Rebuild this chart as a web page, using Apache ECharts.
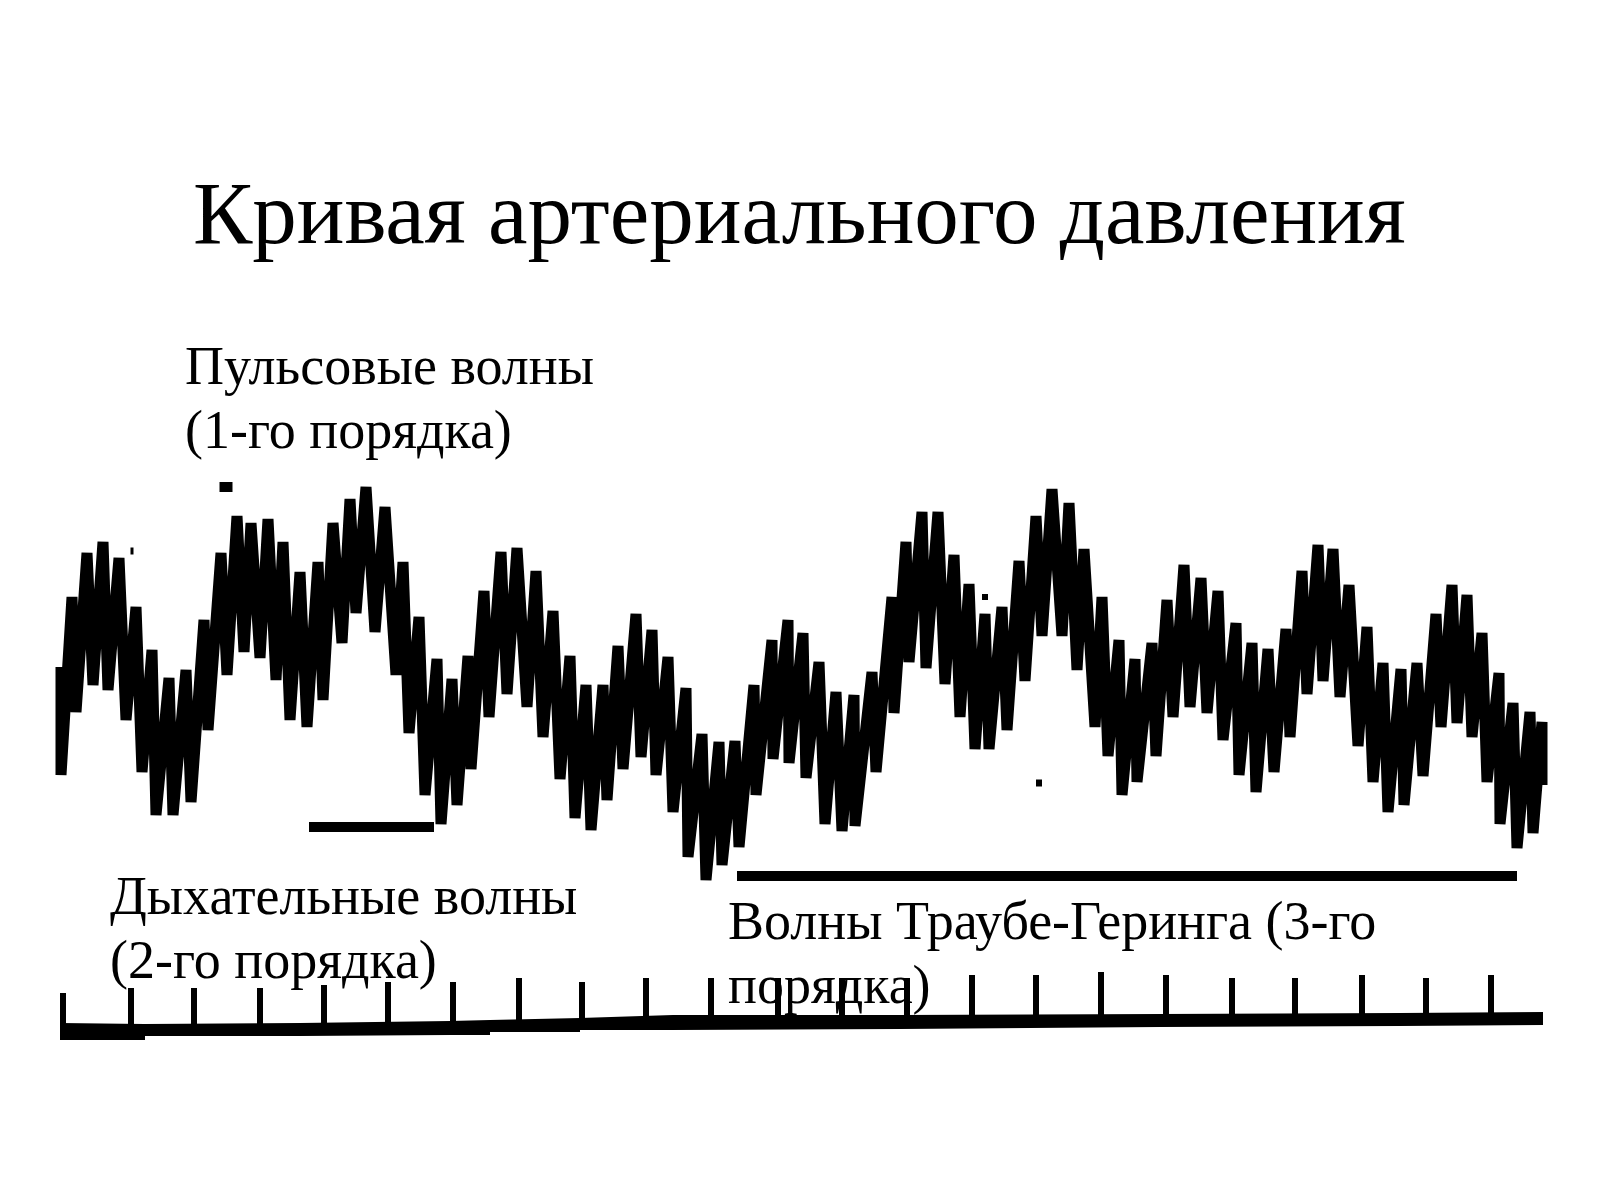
<!DOCTYPE html>
<html>
<head>
<meta charset="utf-8">
<title>Кривая артериального давления</title>
<script src="https://cdn.jsdelivr.net/npm/echarts@6/dist/echarts.min.js"></script>
<style>
  html, body { margin: 0; padding: 0; background: #fff; }
  #chart-container { width: 1600px; height: 1200px; }
</style>
</head>
<body>
<div id="chart-container"></div>
<script>
// pulse beats: crest and foot of every beat
var crestTime = [61,72,87,103,119,136,152,169,186,204,221,237,251,268,283,300,318,333,350,366,385,403,419,437,452,468,484,501,517,536,553,570,586,603,618,636,652,668,686,702,719,735,754,772,788,803,819,836,854,872,892,906,922,938,954,969,985,1002,1019,1036,1052,1069,1084,1102,1119,1135,1152,1167,1184,1201,1218,1236,1252,1268,1286,1302,1318,1333,1349,1367,1383,1401,1417,1436,1452,1467,1482,1499,1513,1530,1542];
var crestLevel = [667,597,553,542,558,607,650,678,670,620,553,516,523,519,542,572,562,523,499,487,507,562,617,659,679,656,591,552,548,571,611,656,685,685,646,614,630,657,688,734,742,741,685,640,620,633,662,692,695,672,597,542,512,512,555,584,614,607,561,516,489,503,549,597,640,659,643,600,565,578,591,623,643,649,629,571,545,549,585,627,663,669,663,614,585,595,633,673,703,712,722];
var footTime = [61,76,93,108,126,142,156,173,191,208,227,244,260,276,290,307,323,342,356,375,396,409,425,441,457,471,489,507,527,543,560,575,591,607,623,641,656,673,688,706,722,739,756,773,789,806,825,842,855,876,894,909,926,945,960,975,989,1007,1025,1042,1062,1077,1095,1108,1122,1137,1156,1173,1190,1207,1223,1239,1256,1274,1290,1307,1323,1340,1358,1373,1388,1404,1423,1441,1457,1472,1487,1500,1517,1533,1542];
var footLevel = [775,712,685,690,720,772,815,815,802,730,675,652,658,680,720,727,700,643,613,632,675,733,795,824,805,769,717,694,707,737,779,818,830,800,769,757,775,812,857,880,865,847,795,759,763,778,824,831,826,772,713,662,668,684,717,749,749,730,681,636,636,670,727,756,795,782,756,717,707,713,740,775,792,772,737,694,681,697,746,782,812,805,776,727,723,737,782,824,848,833,785];

// timer channel: upper and lower edge of the band, and its second marks
var baseTime = [60,145,145,300,450,490,490,580,580,673,900,1160,1400,1543];
var baseTop = [1023,1024,1024,1023,1021,1020,1020,1018,1018,1015,1015,1014,1013,1012];
var baseBottom = [1040,1040,1036,1036,1035,1035,1032,1032,1030,1030,1029,1027,1026,1025];
var markTime = [63,131,194,260,324,388,453,519,582,646,711,778,842,907,972,1036,1101,1166,1232,1295,1362,1426,1491];
var markTop = [993,988,988,988,985,982,982,978,982,978,978,978,978,978,975,975,972,975,978,978,975,978,975];

// brackets under the curve
var respBracket = [[309,827],[434,827]];
var traubeBracket = [[737,876],[1517,876]];
// specks on the trace recording
var speckTime = [226,132,985,1039];
var speckLevel = [487,551,597,783];

var titleText = 'Кривая артериального давления';
var pulseLabel = 'Пульсовые волны\n(1-го порядка)';
var respLabel = 'Дыхательные волны\n(2-го порядка)';
var traubeLabel = 'Волны Траубе-Геринга (3-го\nпорядка)';

var serif = '"Liberation Serif", serif';
var speckSizes = [[13, 10], [3, 7], [6, 6], [6, 7]];
var penWidth = 10;
var tipShare = 0.45; // how much of a beat the square pen tips cover

var trace = [];
for (var i = 0; i < crestTime.length; i++) {
  trace.push([crestTime[i], crestLevel[i]]);
  trace.push([footTime[i], footLevel[i]]);
}

var beats = crestTime.map(function (t, n) {
  return [t, crestLevel[n], footTime[n], footLevel[n]];
});

var timerMarks = [];
for (var k = 0; k < markTime.length; k++) {
  timerMarks.push([markTime[k], markTop[k]]);
  timerMarks.push([markTime[k], 1024]);
  timerMarks.push([markTime[k], null]);
}

var specks = speckTime.map(function (t, n) { return [t, speckLevel[n]]; });

var dom = document.getElementById('chart-container');
var myChart = echarts.init(dom, null, { renderer: 'canvas' });

function label(text, left, top, size, lineHeight) {
  return {
    text: text,
    left: left,
    top: top,
    textStyle: { fontFamily: serif, fontWeight: 'normal', fontSize: size, lineHeight: lineHeight, color: '#000' }
  };
}

// the pen leaves square upright tips at the crest and at the foot of a beat
function renderTips(params, api) {
  var crest = api.coord([api.value(0), api.value(1)]);
  var foot = api.coord([api.value(2), api.value(3)]);
  var tip = (foot[1] - crest[1]) * tipShare;
  return {
    type: 'group',
    children: [
      { type: 'rect', shape: { x: crest[0] - penWidth / 2, y: crest[1], width: penWidth, height: tip }, style: { fill: '#000' } },
      { type: 'rect', shape: { x: foot[0] - penWidth / 2, y: foot[1] - tip, width: penWidth, height: tip }, style: { fill: '#000' } }
    ]
  };
}

var option = {
  backgroundColor: '#ffffff',
  animation: false,
  title: [
    label(titleText, 188, 165, 89, 100),
    label(pulseLabel, 180, 333, 54, 64),
    label(respLabel, 105, 863, 54, 64),
    label(traubeLabel, 723, 888, 54, 64)
  ],
  grid: { left: 0, right: 0, top: 0, bottom: 0 },
  xAxis: { type: 'value', min: 0, max: 1600, show: false },
  yAxis: { type: 'value', min: 0, max: 1200, inverse: true, show: false },
  series: [
    {
      name: 'Артериальное давление',
      type: 'line',
      data: trace,
      showSymbol: false,
      lineStyle: { color: '#000', width: 11, join: 'bevel', cap: 'butt' }
    },
    {
      name: 'Пульсовые волны',
      type: 'custom',
      coordinateSystem: 'cartesian2d',
      data: beats,
      encode: { x: [0, 2], y: [1, 3] },
      renderItem: renderTips
    },
    {
      name: 'Дыхательные волны',
      type: 'line',
      data: respBracket,
      showSymbol: false,
      lineStyle: { color: '#000', width: 10 }
    },
    {
      name: 'Волны Траубе-Геринга',
      type: 'line',
      data: traubeBracket,
      showSymbol: false,
      lineStyle: { color: '#000', width: 10 }
    },
    {
      name: 'Отметка времени',
      type: 'custom',
      coordinateSystem: 'cartesian2d',
      data: [[baseTime[0], baseTop[0]]],
      renderItem: function (params, api) {
        var points = [];
        baseTime.forEach(function (t, n) { points.push(api.coord([t, baseTop[n]])); });
        for (var b = baseTime.length - 1; b >= 0; b--) {
          points.push(api.coord([baseTime[b], baseBottom[b]]));
        }
        return { type: 'polygon', shape: { points: points }, style: { fill: '#000' } };
      }
    },
    {
      name: 'Секунды',
      type: 'line',
      data: timerMarks,
      showSymbol: false,
      connectNulls: false,
      lineStyle: { color: '#000', width: 6 }
    },
    {
      name: 'Точки',
      type: 'scatter',
      data: specks,
      symbol: 'rect',
      symbolSize: function (value, params) { return speckSizes[params.dataIndex]; },
      itemStyle: { color: '#000', opacity: 1 }
    }
  ]
};

myChart.setOption(option);
window.addEventListener('resize', myChart.resize);
</script>
</body>
</html>
